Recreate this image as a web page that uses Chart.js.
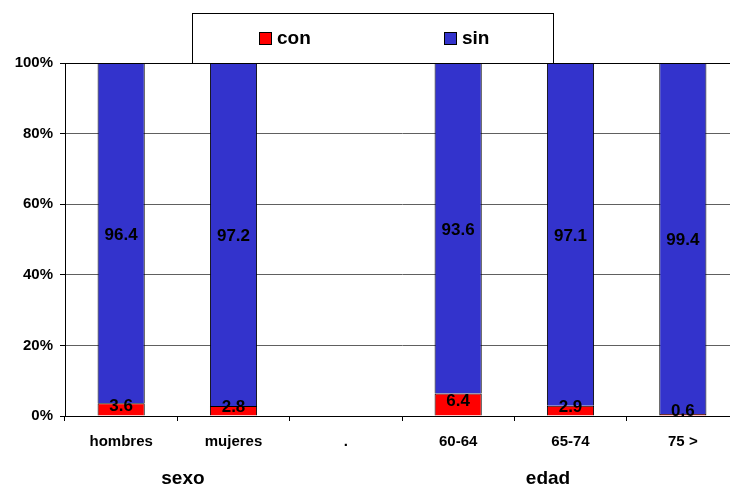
<!DOCTYPE html>
<html>
<head>
<meta charset="utf-8">
<script src="https://cdn.jsdelivr.net/npm/chart.js@4"></script>
<style>
  html, body { margin: 0; padding: 0; background: #fff; overflow: hidden; }
  #wrap { width: 739px; height: 489px; }
</style>
</head>
<body>
<div id="wrap"><canvas id="chart" width="739" height="489"></canvas></div>
<script>
const categories = ['hombres', 'mujeres', '.', '60-64', '65-74', '75 >'];
const conValues = [3.6, 2.8, null, 6.4, 2.9, 0.6];
const sinValues = [96.4, 97.2, null, 93.6, 97.1, 99.4];
const yTicks = [0, 20, 40, 60, 80, 100];
const groupLabels = ['sexo', 'edad'];
const groupCenters = [0.55, 3.8]; // en unidades de categoría

const FONT = '"Liberation Sans", Arial, sans-serif';

// caja de leyenda con borde, como la del original
const legendBox = {
  id: 'legendBox',
  afterDraw(chart) {
    const ctx = chart.ctx;
    ctx.save();
    ctx.fillStyle = '#fff';
    ctx.fillRect(192, 13, 361, 50);
    ctx.strokeStyle = '#000';
    ctx.lineWidth = 1;
    ctx.strokeRect(192.5, 13.5, 361, 50);
    const items = [[259, 277], [444, 462]];
    chart.data.datasets.forEach((ds, i) => {
      const [bx, tx] = items[i];
      ctx.fillStyle = ds.backgroundColor;
      ctx.fillRect(bx, 32, 13, 13);
      ctx.strokeRect(bx + 0.5, 32.5, 12, 12);
      ctx.fillStyle = '#000';
      ctx.font = 'bold 19px ' + FONT;
      ctx.textBaseline = 'middle';
      ctx.textAlign = 'left';
      ctx.fillText(ds.label, tx, 39);
    });
    ctx.restore();
  }
};

// valores dentro de cada segmento y etiquetas de grupo
const valueLabels = {
  id: 'valueLabels',
  afterDatasetsDraw(chart) {
    const ctx = chart.ctx;
    ctx.save();
    ctx.fillStyle = '#000';
    ctx.font = 'bold 17px ' + FONT;
    ctx.textAlign = 'center';
    ctx.textBaseline = 'middle';
    chart.data.datasets.forEach((ds, i) => {
      chart.getDatasetMeta(i).data.forEach((bar, j) => {
        const v = ds.data[j];
        if (v == null) return;
        const mid = (bar.y + bar.base) / 2;
        ctx.fillText(v.toFixed(1), bar.x, i === 0 ? mid - 3 : mid + 2);
      });
    });
    const x = chart.scales.x;
    ctx.font = 'bold 19px ' + FONT;
    groupLabels.forEach((g, i) => {
      ctx.fillText(g, x.getPixelForValue(groupCenters[i]), 479);
    });
    ctx.restore();
  }
};

new Chart(document.getElementById('chart'), {
  type: 'bar',
  data: {
    labels: categories,
    datasets: [
      { label: 'con', data: conValues, backgroundColor: '#FF0000', borderColor: '#000', borderWidth: 1 },
      { label: 'sin', data: sinValues, backgroundColor: '#3333CC', borderColor: '#000', borderWidth: 1 },
    ],
  },
  options: {
    responsive: false,
    animation: false,
    events: [],
    layout: { padding: { top: 63, right: 0, left: 0, bottom: 0 } },
    datasets: { bar: { barPercentage: 0.42, categoryPercentage: 1 } },
    plugins: { legend: { display: false }, tooltip: { enabled: false } },
    scales: {
      x: {
        stacked: true,
        afterFit(s) { s.height = 73; },
        grid: { offset: true, drawOnChartArea: false, tickLength: 5, color: '#000' },
        border: { color: '#000' },
        ticks: { color: '#000', font: { family: FONT, size: 15, weight: 'bold' }, padding: 12 },
      },
      y: {
        stacked: true,
        min: 0,
        max: 100,
        afterFit(s) { s.width = 65; },
        afterBuildTicks(s) { s.ticks = yTicks.map(v => ({ value: v })); },
        grid: {
          tickLength: 5,
          color: c => (c.tick.value === 0 || c.tick.value === 100) ? '#000' : '#606060',
          tickColor: '#000',
        },
        border: { color: '#000' },
        ticks: {
          color: '#000',
          padding: 7,
          font: { family: FONT, size: 15, weight: 'bold' },
          callback: v => v + '%',
        },
      },
    },
  },
  plugins: [valueLabels, legendBox],
});
</script>
</body>
</html>
